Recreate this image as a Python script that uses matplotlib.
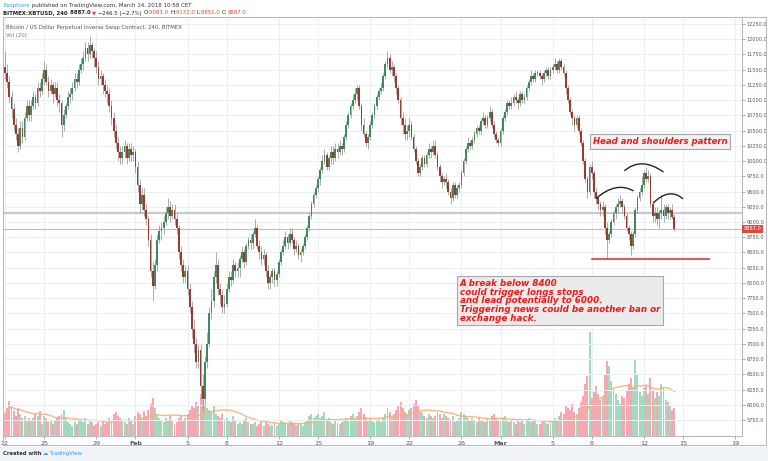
import matplotlib
matplotlib.use("Agg")
import matplotlib.pyplot as plt
import numpy as np
import pandas as pd
from matplotlib.patches import Rectangle, PathPatch
from matplotlib.path import Path

# ---------------- data (4h candles, Jan 22 00:00 -> Mar 14 08:00) ----------------
first_open = 11550
closes = [
    11450, 11300, 11050, 10850, 10600, 10450,
    10250, 10550, 10400, 10700, 10900, 10750,
    10900, 11050, 10950, 11200, 11150, 11350,
    11500, 11300, 11150, 11250, 11100, 11200,
    11000, 10950, 10600, 10750, 10900, 11050,
    11100, 11200, 11350, 11300, 11500, 11600,
    11700, 11850, 11750, 11900, 11800, 11700,
    11550, 11350, 11400, 11250, 11150, 11100,
    10900, 10700, 10500, 10300, 10150, 10050,
    10150, 10250, 10050, 10200, 10100, 10150,
    9900, 9600, 9300, 9450, 9200, 9050,
    8700, 8200, 7950, 8300, 8700, 8850,
    8900, 9000, 9150, 9250, 9100, 9200,
    9050, 8900, 8500, 8300, 8100, 8200,
    7900, 7600, 7250, 7000, 6700, 6900,
    6300, 6100, 6700, 7000, 7500, 7700,
    8100, 8300, 7900, 7800, 7600, 7650,
    7900, 8100, 8050, 8300, 8200, 8250,
    8400, 8500, 8350, 8600, 8700, 8650,
    8800, 8900, 8600, 8500, 8400, 8450,
    8200, 8000, 8100, 8200, 8050, 8150,
    8350, 8500, 8600, 8750, 8650, 8800,
    8700, 8550, 8600, 8450, 8500, 8600,
    8750, 8900, 9100, 9300, 9450, 9550,
    9700, 9850, 10000, 10100, 9900, 10050,
    10150, 10050, 10200, 10150, 10250, 10200,
    10400, 10600, 10750, 10900, 11000, 11100,
    11200, 10900, 10600, 10450, 10300, 10400,
    10600, 10750, 10900, 11050, 11150, 11200,
    11400, 11600, 11700, 11500, 11550, 11400,
    11200, 11000, 10700, 10600, 10450, 10500,
    10600, 10400, 10200, 10000, 9800, 9900,
    10050, 9950, 10100, 10200, 10150, 10250,
    10100, 9900, 9750, 9650, 9700, 9650,
    9500, 9400, 9600, 9450, 9550, 9600,
    9800, 10000, 10200, 10300, 10250, 10350,
    10450, 10550, 10500, 10650, 10700, 10600,
    10700, 10800, 10600, 10450, 10350, 10300,
    10500, 10700, 10800, 10950, 10900, 10950,
    11050, 11000, 10950, 11100, 11000, 11050,
    11200, 11300, 11400, 11350, 11450, 11450,
    11400, 11350, 11450, 11500, 11400, 11500,
    11550, 11600, 11500, 11650, 11550, 11450,
    11200, 11000, 10800, 10700, 10600, 10700,
    10500, 10300, 10000, 9700, 9500, 9900,
    9800, 9500, 9400, 9300, 9200, 9250,
    8900, 8700, 8800, 9000, 9150, 9250,
    9300, 9350, 9250, 9100, 8900, 8800,
    8600, 8800, 9200, 9400, 9500, 9600,
    9800, 9700, 9750, 9300, 9100, 9150,
    9050, 9150, 9200, 9100, 9250, 9150,
    9200, 9083, 8887,
]
highs = [
    11800, 11600, 11400, 11150, 10950, 10700,
    10550, 10650, 10650, 10800, 11000, 11000,
    11000, 11150, 11100, 11300, 11300, 11450,
    11650, 11600, 11400, 11350, 11300, 11300,
    11300, 11100, 11000, 10850, 10950, 11150,
    11200, 11300, 11450, 11450, 11600, 11700,
    11800, 11950, 11950, 12050, 11950, 11850,
    11800, 11650, 11500, 11450, 11350, 11250,
    11200, 11000, 10800, 10600, 10400, 10250,
    10250, 10350, 10300, 10300, 10300, 10250,
    10200, 10000, 9700, 9550, 9550, 9300,
    9100, 8800, 8350, 8400, 8800, 8950,
    9000, 9100, 9250, 9400, 9350, 9300,
    9300, 9150, 8950, 8600, 8400, 8300,
    8300, 8000, 7700, 7400, 7100, 7000,
    7000, 6500, 6800, 7200, 7600, 7900,
    8200, 8500, 8400, 8000, 7900, 7800,
    8000, 8200, 8200, 8400, 8350, 8350,
    8450, 8600, 8550, 8650, 8750, 8800,
    8850, 9050, 8950, 8700, 8600, 8550,
    8500, 8300, 8150, 8250, 8250, 8200,
    8400, 8550, 8700, 8850, 8800, 8900,
    8900, 8750, 8700, 8650, 8550, 8650,
    8800, 8950, 9150, 9350, 9500, 9600,
    9750, 9900, 10100, 10200, 10150, 10100,
    10250, 10250, 10300, 10300, 10350, 10300,
    10450, 10650, 10800, 10950, 11100, 11200,
    11250, 11250, 10950, 10700, 10500, 10450,
    10650, 10800, 10950, 11100, 11200, 11300,
    11450, 11650, 11800, 11750, 11650, 11600,
    11450, 11250, 11050, 10800, 10700, 10600,
    10700, 10650, 10450, 10250, 10050, 9950,
    10100, 10100, 10150, 10300, 10250, 10350,
    10350, 10150, 9950, 9800, 9750, 9800,
    9700, 9550, 9650, 9650, 9600, 9650,
    9850, 10050, 10250, 10400, 10350, 10400,
    10500, 10600, 10600, 10700, 10800, 10750,
    10750, 10900, 10850, 10650, 10500, 10400,
    10550, 10750, 10850, 11000, 11000, 11050,
    11100, 11150, 11050, 11150, 11150, 11100,
    11250, 11350, 11500, 11450, 11500, 11500,
    11500, 11450, 11500, 11550, 11550, 11550,
    11600, 11700, 11650, 11700, 11700, 11600,
    11500, 11250, 11050, 10850, 10750, 10750,
    10750, 10550, 10350, 10050, 9750, 9950,
    10000, 9850, 9550, 9450, 9350, 9350,
    9300, 9000, 8850, 9050, 9200, 9300,
    9400, 9450, 9400, 9300, 9150, 8950,
    8850, 8850, 9250, 9450, 9550, 9750,
    9850, 9900, 9850, 9800, 9350, 9250,
    9250, 9200, 9450, 9300, 9300, 9300,
    9250, 9300, 9132,
]
lows = [
    11350, 11200, 10950, 10700, 10500, 10350,
    10150, 10200, 10300, 10350, 10650, 10650,
    10650, 10850, 10850, 10900, 11050, 11100,
    11250, 11250, 11050, 11100, 10950, 11050,
    10900, 10800, 10400, 10500, 10700, 10850,
    10950, 11000, 11150, 11200, 11250, 11450,
    11500, 11650, 11650, 11700, 11700, 11550,
    11450, 11250, 11250, 11100, 11050, 10950,
    10800, 10600, 10400, 10200, 10000, 9950,
    9950, 10050, 9950, 10000, 10000, 10000,
    9800, 9500, 9150, 9200, 9100, 8950,
    8600, 8100, 7700, 7900, 8200, 8650,
    8700, 8800, 8950, 9050, 9000, 9050,
    8950, 8800, 8400, 8200, 8000, 8000,
    7800, 7500, 7100, 6850, 6600, 6600,
    6100, 5900, 6000, 6600, 6950, 7400,
    7600, 8000, 7800, 7650, 7500, 7500,
    7600, 7850, 7950, 8000, 8100, 8100,
    8100, 8350, 8250, 8300, 8550, 8550,
    8550, 8750, 8550, 8400, 8300, 8300,
    8100, 7900, 7900, 8000, 7950, 7950,
    8100, 8300, 8450, 8550, 8550, 8600,
    8650, 8450, 8500, 8400, 8350, 8450,
    8550, 8700, 8850, 9050, 9250, 9400,
    9500, 9600, 9800, 9950, 9850, 9850,
    9950, 9950, 10000, 10050, 10100, 10100,
    10150, 10350, 10550, 10700, 10850, 10950,
    11000, 10850, 10500, 10400, 10250, 10200,
    10350, 10550, 10700, 10850, 11000, 11100,
    11150, 11350, 11550, 11450, 11400, 11300,
    11100, 10950, 10600, 10450, 10350, 10350,
    10400, 10350, 10150, 9950, 9750, 9750,
    9850, 9900, 9900, 10050, 10050, 10100,
    10050, 9850, 9650, 9550, 9600, 9550,
    9450, 9300, 9350, 9400, 9400, 9500,
    9550, 9750, 9950, 10150, 10200, 10200,
    10300, 10400, 10450, 10450, 10600, 10550,
    10550, 10650, 10550, 10400, 10300, 10250,
    10250, 10450, 10650, 10750, 10850, 10850,
    10900, 10950, 10850, 10900, 10950, 10950,
    11000, 11150, 11250, 11300, 11300, 11400,
    11350, 11250, 11300, 11400, 11350, 11350,
    11450, 11500, 11450, 11450, 11500, 11400,
    11100, 10950, 10750, 10600, 10500, 10550,
    10450, 10250, 9950, 9650, 9400, 9450,
    9700, 9400, 9300, 9200, 9100, 9100,
    8800, 8400, 8650, 8750, 8950, 9050,
    9150, 9250, 9150, 9050, 8850, 8700,
    8450, 8550, 8750, 9150, 9350, 9450,
    9550, 9650, 9650, 9250, 9000, 9000,
    8950, 8900, 9050, 9000, 9050, 9050,
    9050, 9050, 8851,
]
volumes = [
    22, 28, 35, 30, 25, 20,
    28, 22, 18, 20, 15, 18,
    15, 18, 22, 20, 25, 12,
    20, 18, 14, 16, 12, 15,
    18, 20, 22, 26, 18, 14,
    12, 10, 14, 12, 16, 15,
    14, 18, 12, 16, 14, 10,
    12, 14, 10, 16, 12, 14,
    18, 16, 22, 24, 20, 18,
    16, 14, 12, 18, 15, 12,
    20, 24, 22, 18, 25, 20,
    26, 32, 38, 28, 22, 18,
    16, 14, 18, 15, 20, 16,
    12, 14, 18, 20, 16, 18,
    22, 26, 30, 28, 34, 30,
    42, 36, 30, 28, 26, 24,
    30, 22, 20, 18, 22, 16,
    18, 16, 14, 20, 15, 12,
    14, 12, 16, 18, 14, 12,
    12, 14, 10, 12, 16, 10,
    14, 12, 10, 11, 13, 10,
    12, 15, 14, 13, 12, 16,
    14, 12, 11, 13, 12, 10,
    14, 16, 20, 22, 18, 20,
    22, 18, 20, 24, 16, 18,
    14, 12, 15, 13, 12, 14,
    15, 18, 16, 20, 22, 18,
    20, 24, 28, 22, 18, 16,
    18, 16, 14, 15, 17, 14,
    18, 22, 28, 24, 20, 22,
    26, 30, 34, 28, 24, 22,
    26, 28, 32, 36, 30, 24,
    24, 20, 18, 22, 20, 18,
    20, 24, 22, 18, 22, 20,
    18, 16, 20, 14, 16, 18,
    24, 22, 20, 18, 16, 18,
    16, 14, 18, 15, 16, 14,
    18, 16, 20, 22, 18, 16,
    16, 18, 20, 15, 14, 16,
    14, 12, 16, 14, 15, 12,
    16, 18, 14, 15, 16, 12,
    12, 14, 16, 13, 12, 14,
    16, 18, 15, 20, 24, 22,
    30, 28, 26, 32, 24, 22,
    28, 34, 40, 52, 60, 104,
    38, 44, 50, 42, 36, 40,
    62, 75, 70, 55, 48, 42,
    36, 32, 40, 38, 46, 52,
    58, 48, 76, 62, 44, 40,
    48, 50, 42, 58, 46, 38,
    44, 40, 52, 48, 36, 34,
    30, 26, 28,
]
day_ticks = [0, 3, 7, 10, 14, 17, 21, 24, 28, 31, 35, 38, 42, 45, 49, 52, 56]
day_labels = ["22", "25", "29", "Feb", "5", "8", "12", "15", "19", "22", "26",
              "Mar", "5", "8", "12", "15", "19"]
price_ticks = list(range(5750, 12251, 250))
last_price = 8887.0
support_level = 8400
gray_level = 9150

# drawing anchors (day, price) for the head & shoulders arcs
arcs = [
    [(45.3, 9380), (46.8, 9560), (48.2, 9510)],
    [(47.5, 9840), (48.9, 9955), (50.5, 9820)],
    [(49.7, 9310), (50.9, 9460), (52.0, 9380)],
]
support_span = (45.0, 54.0)

# ---------------- figure ----------------
W, H = 768, 461
fig = plt.figure(figsize=(W / 100, H / 100), dpi=100, facecolor="white")

def fx(px):
    return px / W

def fy(py):
    return 1 - py / H

# bottom band
fig.patches.append(Rectangle((0, 0), 1, fy(447), transform=fig.transFigure,
                             facecolor="#eff2f6", edgecolor="none", zorder=0))

L, R, T, B = 3, 742, 17, 436
axv = fig.add_axes([fx(L), fy(B), fx(R - L), fy(T) - fy(B)])
ax = fig.add_axes([fx(L), fy(B), fx(R - L), fy(T) - fy(B)], sharex=axv)
ax.patch.set_visible(False)
axv.set_facecolor("white")

n = len(closes)
opens = [first_open] + closes[:-1]
t = np.arange(n) / 6.0
o = np.array(opens, float)
c = np.array(closes, float)
h = np.array(highs, float)
lo = np.array(lows, float)
up = c >= o

ax.set_xlim(-0.153, 56.52)
ax.set_ylim(5487, 12365)

# grid
for d in day_ticks:
    axv.axvline(d, color="#eceff2", lw=0.7, zorder=0)
ax.set_yticks(price_ticks)
ax.grid(axis="y", color="#eceff2", lw=0.7, zorder=0)

# volume
up_vol_col = "#a3d9bd"
dn_vol_col = "#f5a7b2"
vcol = [up_vol_col if u else dn_vol_col for u in up]
axv.bar(t, volumes, width=0.15, color=vcol, linewidth=0, zorder=1)
ma = pd.Series(volumes, dtype=float).rolling(20, min_periods=1).mean()
axv.plot(t, ma, color="#f7b07a", lw=1.0, alpha=0.9, zorder=2)
axv.set_ylim(0, 419)
axv.set_yticks([])
for s in axv.spines.values():
    s.set_visible(False)

# horizontal lines
ax.axhline(gray_level, color="#c9c9c9", lw=1.6, zorder=1)
ax.axhline(last_price, color="#f2aaaa", lw=0.8, zorder=1)

# candles
up_col = "#3f8a5c"
dn_col = "#9c3a32"
ax.vlines(t, lo, h, color="#8c8c8c", lw=0.5, zorder=3)
body_lo = np.minimum(o, c)
body_h = np.maximum(np.abs(c - o), 12)
ax.bar(t, body_h, bottom=body_lo, width=0.135,
       color=[up_col if u else dn_col for u in up], linewidth=0, zorder=4)

# arcs
for (p0, p1, p2) in arcs:
    ctrl = (2 * p1[0] - (p0[0] + p2[0]) / 2, 2 * p1[1] - (p0[1] + p2[1]) / 2)
    path = Path([p0, ctrl, p2], [Path.MOVETO, Path.CURVE3, Path.CURVE3])
    ax.add_patch(PathPatch(path, fill=False, edgecolor="#222222", lw=1.0, zorder=6))
ax.plot(support_span, [support_level, support_level], color="#e53935", lw=1.2, zorder=6)

# annotations
def axpos(px, py):
    return ((px - L) / (R - L), 1 - (py - T) / (B - T))

ax.text(*axpos(593, 141.5), "Head and shoulders pattern",
        transform=ax.transAxes, color="#f01818", fontsize=6.1, fontweight="bold",
        fontstyle="italic", va="center", ha="left", zorder=8,
        bbox=dict(boxstyle="square,pad=0.3", facecolor="#f1f1f1", edgecolor="#a8a8a8", lw=0.8))
ax.text(*axpos(460, 279), "A break below 8400\ncould trigger longs stops\nand lead potentially to 6000.\n"
        "Triggering news could be another ban or\nexchange hack.",
        transform=ax.transAxes, color="#f01818", fontsize=6.3, fontweight="bold",
        fontstyle="italic", va="top", ha="left", linespacing=0.95, zorder=8,
        bbox=dict(boxstyle="square,pad=0.3", facecolor="#ebebeb", edgecolor="#a8a8a8", lw=0.8))

# axes styling
ax.yaxis.tick_right()
ax.set_yticklabels([f"{p:.1f}" for p in price_ticks])
ax.tick_params(axis="y", length=2.0, width=0.6, color="#9a9a9a", labelsize=3.6,
               labelcolor="#555555", pad=1.0)
axv.set_xticks(day_ticks)
axv.set_xticklabels(day_labels)
ax.tick_params(axis="x", which="both", bottom=False, labelbottom=False)
axv.tick_params(axis="x", length=2, width=0.6, color="#9a9a9a", labelsize=4.6,
                labelcolor="#555555", pad=1.5)
for lbl in axv.get_xticklabels():
    if lbl.get_text() in ("Feb", "Mar"):
        lbl.set_fontweight("bold")
for name, s in ax.spines.items():
    s.set_color("#b7bcc3")
    s.set_linewidth(0.8)
ax.spines["left"].set_visible(False)
ax.spines["top"].set_visible(False)

# outer frame
fig.patches.append(Rectangle((fx(3), fy(445)), fx(763), fy(17) - fy(445),
                             transform=fig.transFigure, fill=False,
                             edgecolor="#b7bcc3", lw=0.8, zorder=10))

# last price label
ax.annotate(f"{last_price:.1f}", xy=(1, last_price), xycoords=("axes fraction", "data"),
            xytext=(1.2, 0), textcoords="offset points", fontsize=3.6, color="white",
            va="center", ha="left", annotation_clip=False, zorder=12,
            bbox=dict(boxstyle="square,pad=0.3", facecolor="#e0483c", edgecolor="none"))

# legend texts inside plot
ax.text(*axpos(6, 27), "Bitcoin / US Dollar Perpetual Inverse Swap Contract, 240, BITMEX",
        transform=ax.transAxes, fontsize=3.9, color="#555555", va="center", ha="left")
ax.text(*axpos(6, 36), "Vol (20)",
        transform=ax.transAxes, fontsize=3.9, color="#777777", va="center", ha="left")

# header / footer text chains
def chain_text(parts, x, y, size):
    prev = fig.text(x, y, parts[0][0], color=parts[0][1], fontsize=size,
                    fontweight=parts[0][2], va="center", ha="left")
    for s, col, wt in parts[1:]:
        prev = fig.add_artist(plt.Annotation(s, xy=(1, 0.5), xycoords=prev,
                                             color=col, fontsize=size, fontweight=wt,
                                             va="center", ha="left"))

chain_text([("Esoptions", "#2f9bf0", "normal"),
            (" published on TradingView.com, March 14, 2018 10:58 CET", "#333333", "normal")],
           fx(3), fy(5.5), 4.0)
red = "#e0483c"
chain_text([("BITMEX:XBTUSD, 240 ", "#222222", "bold"),
            ("8887.0 ", "#222222", "bold"),
            ("\u25bc", red, "bold"),
            (" \u2212246.5 (\u22122.7%) ", "#222222", "normal"),
            ("O:", "#222222", "normal"), ("9083.0 ", red, "normal"),
            ("H:", "#222222", "normal"), ("9132.0 ", red, "normal"),
            ("L:", "#222222", "normal"), ("8851.0 ", red, "normal"),
            ("C:", "#222222", "normal"), ("8887.0", red, "normal")],
           fx(3), fy(13), 3.9)

chain_text([("Created with ", "#333333", "bold"),
            ("\u2601", "#2f9bf0", "normal"),
            (" TradingView", "#2f9bf0", "normal")],
           fx(3), fy(453), 3.8)

fig.savefig("out.png", dpi=100, facecolor=fig.get_facecolor())
